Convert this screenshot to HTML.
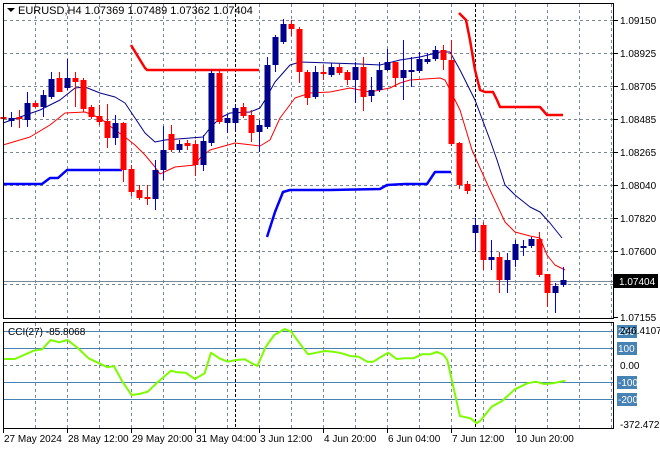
<!DOCTYPE html>
<html><head><meta charset="utf-8"><style>
body{margin:0;background:#fff;}
svg{display:block;font-family:"Liberation Sans",sans-serif;}
</style></head><body>
<svg id="s" width="660" height="450" xmlns="http://www.w3.org/2000/svg">
<rect width="660" height="450" fill="#fff"/>
<g id="grid" stroke="#7a8794" stroke-dasharray="3,3" stroke-width="1"></g>
<g id="ind"></g>
<g id="candles"></g>
<rect x="3.5" y="3.5" width="610" height="315" fill="none" stroke="#000"/>
<rect x="3.5" y="322.5" width="610" height="106" fill="none" stroke="#000"/>
<g id="txt" font-size="11" fill="#000"></g>
</svg>
<script>
const NS="http://www.w3.org/2000/svg";
function el(p,t,a,txt){const e=document.createElementNS(NS,t);for(const k in a)e.setAttribute(k,a[k]);if(txt!==undefined)e.textContent=txt;document.getElementById(p).appendChild(e);return e;}
const g='grid';
// horizontal grid main
[20,53,86,119,152,185,218,251,284].forEach(y=>el(g,'line',{x1:4,x2:613,y1:y+.5,y2:y+.5}));
[365].forEach(y=>el(g,'line',{x1:4,x2:613,y1:y+.5,y2:y+.5}));
// vertical
for(let x=35;x<613;x+=32){ if(x==227||x==483)continue; el(g,'line',{x1:x+.5,x2:x+.5,y1:4,y2:318}); el(g,'line',{x1:x+.5,x2:x+.5,y1:323,y2:428});}
el(g,'line',{x1:483.5,x2:483.5,y1:4,y2:318});el(g,'line',{x1:227.5,x2:227.5,y1:4,y2:318});
el(g,'line',{x1:483.5,x2:483.5,y1:323,y2:428});el(g,'line',{x1:227.5,x2:227.5,y1:323,y2:428});
[235,475].forEach(x=>{el('ind','line',{x1:x+.5,x2:x+.5,y1:4,y2:428,stroke:'#000','stroke-dasharray':'3,2'});});
// price line
el('ind','line',{x1:4,x2:613,y1:281.5,y2:281.5,stroke:'#778899'});
// CCI levels
[331,348,382,399].forEach(y=>el('ind','line',{x1:4,x2:613,y1:y+.5,y2:y+.5,stroke:'#4682b4'}));
function pl(pts,c,w){el('ind','polyline',{points:pts.map(p=>p.join(',')).join(' '),fill:'none',stroke:c,'stroke-width':w,'stroke-linejoin':'round'});}
pl([[3,123],[20,117],[40,110],[60,100],[75,88],[85,87],[100,93],[115,97],[125,103],[135,118],[145,133],[155,142],[165,140],[203,137],[210,128],[220,118],[230,113],[250,112],[260,108],[265,100],[275,82],[290,65],[300,62],[330,63],[360,64],[380,65],[400,60],[420,57],[440,52],[450,52],[460,70],[475,100],[490,140],[497,160],[505,185],[515,195],[530,207],[540,212],[550,223],[562,238]],'#00008b',1);
pl([[3,145],[30,137],[50,125],[65,113],[85,112],[100,118],[115,130],[125,137],[135,145],[145,155],[155,167],[160,174],[175,167],[195,165],[200,158],[210,150],[235,143],[260,146],[270,140],[280,118],[295,98],[310,93],[330,92],[350,88],[370,92],[390,88],[400,83],[410,80],[440,78],[445,80],[460,110],[472,150],[480,168],[490,190],[505,222],[515,232],[530,236],[540,238],[547,255],[555,265],[565,270]],'#ff0000',1);
pl([[131,45],[137,55],[145,68],[147,70],[259,70]],'#ff0000',2.5);
pl([[459,13],[466,20],[470,40],[475,70],[480,90],[485,92],[493,92],[497,100],[500,107],[540,107],[547,115],[563,115]],'#ff0000',2.5);
pl([[3,184],[42,184],[50,178],[58,178],[67,170],[122,170]],'#0000ff',2.5);
pl([[267,237],[275,212],[283,192],[290,190],[330,190],[380,189],[387,185],[405,184],[427,184],[435,172],[451,172]],'#0000ff',2.5);
// CCI
const cimg=[[8,147],[35,147],[80,122],[100,118],[120,90],[140,97],[160,90],[185,115],[210,145],[235,160],[255,172],[270,168],[290,215],[312,255],[330,252],[350,245],[375,215],[405,182],[420,187],[440,188],[462,207],[485,190],[500,128],[520,145],[540,155],[560,150],[580,148],[600,162],[610,168],[630,110],[650,75],[675,57],[690,65],[710,100],[730,133],[750,128],[770,123],[790,125],[810,130],[830,138],[850,140],[870,155],[885,155],[900,143],[920,128],[940,147],[960,145],[980,145],[1000,133],[1020,133],[1035,126],[1050,133],[1060,150],[1090,318],[1115,325],[1130,340],[1140,330],[1165,290],[1190,273],[1220,238],[1250,220],[1270,215],[1290,222],[1310,220],[1340,212]];
pl(cimg.map(p=>[(p[0]/2.37).toFixed(1),(310+p[1]/3).toFixed(1)]),'#7cfc00',2);
// candles [x,open,close,high,low]  (y coords)
const C=[[3,117,119,114,122,0],[11,118,121,112,127,1],[19,117,119,110,128,0],[27,120,103,92,127,1],[35,103,107,101,108,0],[43,107,95,90,117,1],[51,97,79,72,99,1],[59,78,92,72,92,0],[67,88,78,59,90,1],[75,78,82,72,107,0],[83,80,109,78,112,0],[91,107,117,105,119,0],[99,116,122,105,125,0],[107,121,138,104,148,0],[115,138,123,115,145,1],[123,123,170,122,182,0],[131,169,192,165,196,0],[139,190,198,185,200,0],[147,197,199,185,205,0],[155,199,170,160,210,1],[163,170,150,126,180,1],[171,134,150,125,152,0],[179,150,144,140,152,1],[187,143,146,140,150,0],[195,144,165,140,176,0],[203,165,141,135,171,1],[211,143,73,70,146,1],[219,73,122,71,124,0],[227,123,118,114,133,1],[235,123,108,105,130,1],[243,107,116,103,118,0],[251,115,133,110,142,0],[259,132,125,120,152,1],[267,127,65,57,129,1],[275,65,37,35,72,1],[283,42,24,19,44,1],[291,24,29,20,36,0],[299,29,72,27,83,0],[307,72,98,70,105,0],[315,97,72,66,99,1],[323,72,74,65,80,0],[331,75,67,63,77,1],[339,67,73,64,75,0],[347,72,80,70,85,0],[355,80,67,62,103,1],[363,67,97,57,111,0],[371,96,90,77,102,1],[379,90,70,62,92,1],[387,70,62,49,71,1],[395,62,78,62,87,0],[403,78,70,40,100,1],[411,71,70,57,87,1],[419,71,59,52,73,1],[427,62,59,53,64,1],[435,59,50,46,61,1],[443,50,60,45,70,0],[451,60,144,40,146,0],[459,143,185,142,189,0],[467,184,191,181,194,0],[475,233,225,218,250,1],[483,225,260,222,270,0],[491,260,257,240,270,1],[499,257,280,252,293,0],[507,280,260,253,293,1],[515,260,244,240,267,1],[523,247,246,240,256,1],[531,246,239,237,248,1],[539,239,275,232,277,0],[547,274,293,275,307,0],[555,293,286,283,313,1],[563,285,280,267,287,1]];
C.forEach(c=>{const col=c[5]?'#00008b':'#ff0000';const wc=c[5]?'#0000ff':'#ff0000';
 el('candles','line',{x1:c[0]+.5,x2:c[0]+.5,y1:Math.min(c[3],c[1],c[2]),y2:Math.max(c[4],c[1],c[2]),stroke:wc});
 const t=Math.min(c[1],c[2]),h=Math.max(2,Math.abs(c[1]-c[2]));
 el('candles','rect',{x:c[0]-2.5,y:t,width:6,height:h,fill:c[5]?'#00008b':'#ff0000'});});
// texts
const T='txt';
el(T,'path',{d:'M7 8 L15 8 L11 12 Z',fill:'#000'});
el(T,'text',{x:18,y:14},'EURUSD,H4  1.07369 1.07489 1.07362 1.07404');
const pl2=[['1.09150',20],['1.08925',53],['1.08705',86],['1.08485',119],['1.08265',152],['1.08040',185],['1.07820',218],['1.07600',251],['1.07155',317]];
pl2.forEach(p=>{el(T,'line',{x1:614,x2:618,y1:p[1]+.5,y2:p[1]+.5,stroke:'#000'});el(T,'text',{x:620,y:p[1]+4,'font-size':10},p[0]);});
el(T,'rect',{x:614,y:274,width:44,height:14,fill:'#000'});
el(T,'text',{x:619,y:285,'font-size':10,fill:'#fff'},'1.07404');
el(T,'text',{x:8,y:335,'font-size':10},'CCI(27) -85.8068');
[['200',331],['100',348],['-100',382],['-200',399]].forEach(p=>{el(T,'rect',{x:617,y:p[1]-6,width:20,height:13,fill:'#4682b4'});el(T,'text',{x:618,y:p[1]+4,'font-size':10,fill:'#fff'},p[0]);});
el(T,'text',{x:620,y:334,'font-size':10},'246.4107');
el(T,'text',{x:620,y:369,'font-size':10},'0.00');
el(T,'text',{x:620,y:428,'font-size':10},'-372.472');
[['27 May 2024',3],['28 May 12:00',67],['29 May 20:00',131],['31 May 04:00',195],['3 Jun 12:00',259],['4 Jun 20:00',323],['6 Jun 04:00',387],['7 Jun 12:00',451],['10 Jun 20:00',515]].forEach(p=>{el(T,'line',{x1:p[1]+.5,x2:p[1]+.5,y1:429,y2:433,stroke:'#000'});el(T,'text',{x:p[1]+1,y:442,'font-size':10},p[0]);});
</script>
</body></html>
